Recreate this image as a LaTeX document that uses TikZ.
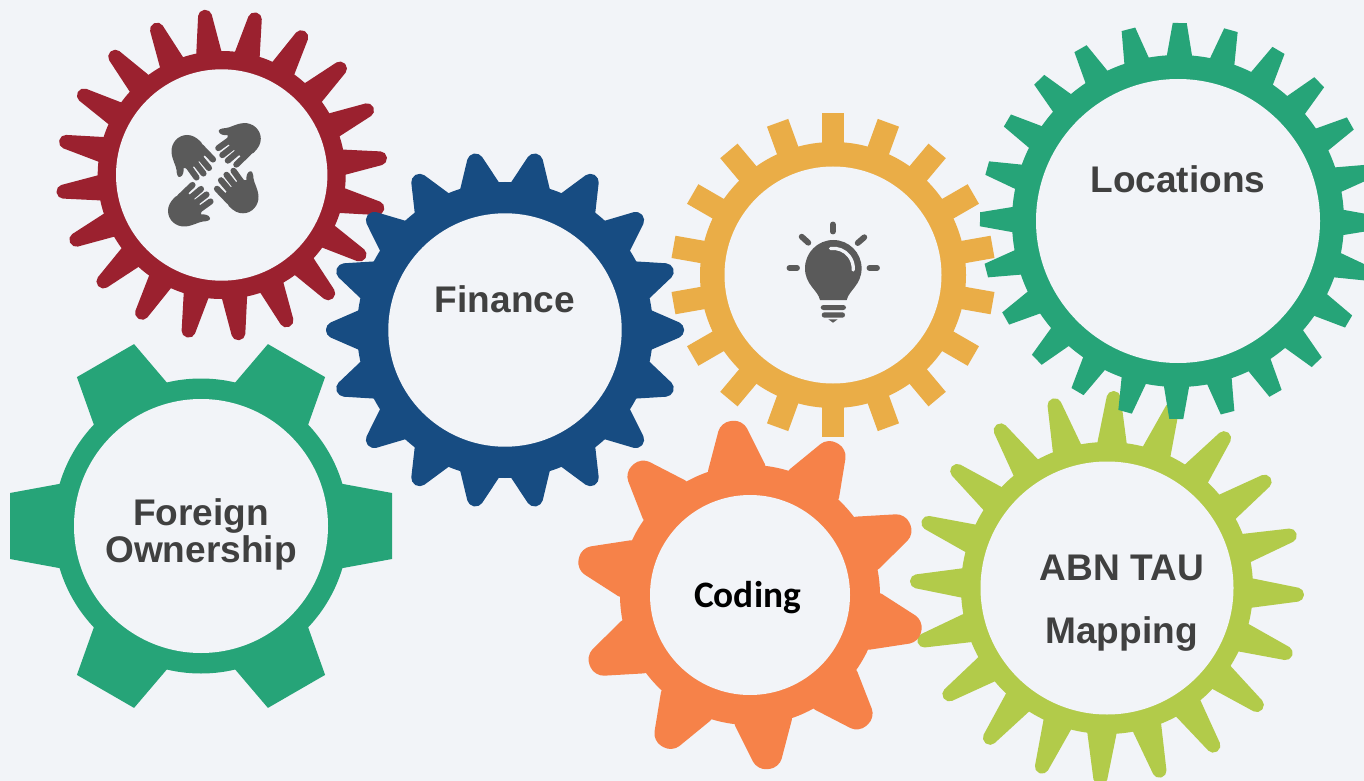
\documentclass[tikz,border=0pt]{standalone}
\usepackage{fontspec}
\setmainfont{Liberation Sans}
\newfontfamily\codingfont{Carlito}
\definecolor{pagebg}{HTML}{F2F4F8}
\definecolor{gearred}{HTML}{9B212F}
\definecolor{gearblue}{HTML}{174C82}
\definecolor{gearyellow}{HTML}{EAAD47}
\definecolor{geargreen}{HTML}{26A478}
\definecolor{gearorange}{HTML}{F68249}
\definecolor{gearlime}{HTML}{B2CB4A}
\definecolor{labelgrey}{HTML}{404040}
\definecolor{icongrey}{HTML}{5A5A5A}
% [corner radius]{colour}{centre}{teeth}{phase}{ring radius}{tip radius}{foot half width}{tip half width}
\newcommand{\gearwheel}[9][0]{%
  \pgfmathsetmacro{\gearstep}{360/#4}
  \pgfmathsetmacro{\gearinner}{#6-10}
  \pgfmathsetmacro{\gearfoot}{#8+(#8-#9)*10/(#7-#6)}
  \fill[#2] #3 circle (#6);
  \foreach \i in {1,...,#4} {
    \fill[#2, shift={#3}, rotate=#5+\i*\gearstep, rounded corners=#1*.75pt]
      (\gearinner,\gearfoot) -- (#7,#9) -- (#7,-#9) -- (\gearinner,-\gearfoot) -- cycle;
  }
}
\tikzset{
  gearhole/.style={circle, fill=pagebg, inner sep=0pt, minimum size=#1*.75pt},
  gearlabel/.style={anchor=base, inner sep=0pt, text=labelgrey, font=\fontsize{27.8}{30}\selectfont\bfseries},
  bulbray/.style={draw=icongrey, line width=4.4pt, line cap=round},
  handfinger/.style={draw=icongrey, line width=4.6pt, line cap=round},
  hand/.pic={
    \fill[icongrey] (-10,-26) -- (-14,-33) .. controls (-19,-38) and (-23,-40) .. (-28,-40)
      .. controls (-37,-40) and (-44,-32) .. (-43.5,-23)
      .. controls (-43,-15) and (-39,-10) .. (-38.5,-5)
      .. controls (-38.5,-1) and (-37,3) .. (-35,2)
      .. controls (-32,1) and (-31,-3) .. (-31.5,-7)
      -- (-24,-6) -- (-10,-20) -- cycle;
    \draw[handfinger] (-14,-28) -- (-2,-15.5);
    \draw[handfinger] (-17,-20) -- (-6,-7);
    \draw[handfinger] (-22,-15) -- (-11.5,-1.5);
    \draw[handfinger] (-27.5,-10) -- (-18.5,2.5);
  },
}
\begin{document}
\begin{tikzpicture}[x=.75pt, y=-.75pt]
\clip (0,0) rectangle (1364,781);
\fill[pagebg] (0,0) rectangle (1364,781);

\gearwheel[5.5]{gearlime}{(1107,588)}{20}{-2}{146}{197}{14.5}{6}
\gearwheel{gearyellow}{(833,275)}{18}{10}{133}{162}{11.3}{11.3}
\gearwheel[5.5]{gearred}{(221.7,175)}{20}{6}{124}{166}{12.5}{6}
\gearwheel[5]{gearblue}{(505,330)}{18}{0}{148}{179}{19}{5.5}
\gearwheel[9.5]{gearorange}{(750,595)}{10}{24}{130}{175}{28}{11}
\gearwheel{geargreen}{(201,526)}{6}{0}{147.5}{191}{41}{33}
\gearwheel{geargreen}{(1178,221)}{24}{-0.5}{166}{198}{12.5}{7}

\node[gearhole=211.4] (partnerhole) at (221.7,175) {};
\node[gearhole=233.4] (financehole) at (505,330) {};
\node[gearhole=217] (ideahole) at (833,275) {};
\node[gearhole=284] (locationhole) at (1178,221) {};
\node[gearhole=254] (foreignhole) at (201,526) {};
\node[gearhole=200] (codinghole) at (750,595) {};
\node[gearhole=253] (abnhole) at (1107,588) {};

\node[gearlabel] (financetext) at (505,312.7) {Finance};
\node[gearlabel] (locationtext) at (1178,192.7) {Locations};
\node[gearlabel] (foreigntext) at (201,525) {Foreign};
\node[gearlabel] (ownertext) at (201,562.7) {Ownership};
\node[gearlabel] (abntext) at (1122,580) {ABN TAU};
\node[gearlabel] (mappingtext) at (1121.5,643) {Mapping};
\node[gearlabel, text=black, font=\codingfont\fontsize{28}{30}\selectfont\bfseries] (codingtext) at (747.5,607.5) {Coding};

\foreach \hx/\hy/\hrot in {215/175/0, 220.8/166.6/-90, 215/173.3/180, 208/183/90}
  \pic[rotate=\hrot] at (\hx,\hy) {hand};

\fill[icongrey] (820,300) .. controls (818,290) and (805,285) .. (805,268.3)
  arc (180:360:28.3) .. controls (861.6,285) and (849,290) .. (846.7,300) -- cycle;
\draw[pagebg, line width=2.5pt, line cap=round] (830.5,248.5) arc (262:365:20);
\fill[icongrey, rounded corners=2pt] (820.7,305) rectangle (846,310);
\fill[icongrey, rounded corners=2pt] (821.7,312.3) rectangle (845,317.7);
\fill[icongrey] (828.3,319.3) -- (837.7,319.3) -- (833,322.7) -- cycle;
\draw[bulbray] (832.7,224.5) -- (832.7,231.5);
\draw[bulbray] (789.5,268) -- (797,268);
\draw[bulbray] (869.5,268) -- (877,268);
\draw[bulbray] (801.7,236.7) -- (808.3,242.7);
\draw[bulbray] (864.3,237.3) -- (857.7,243);
\end{tikzpicture}
\end{document}
